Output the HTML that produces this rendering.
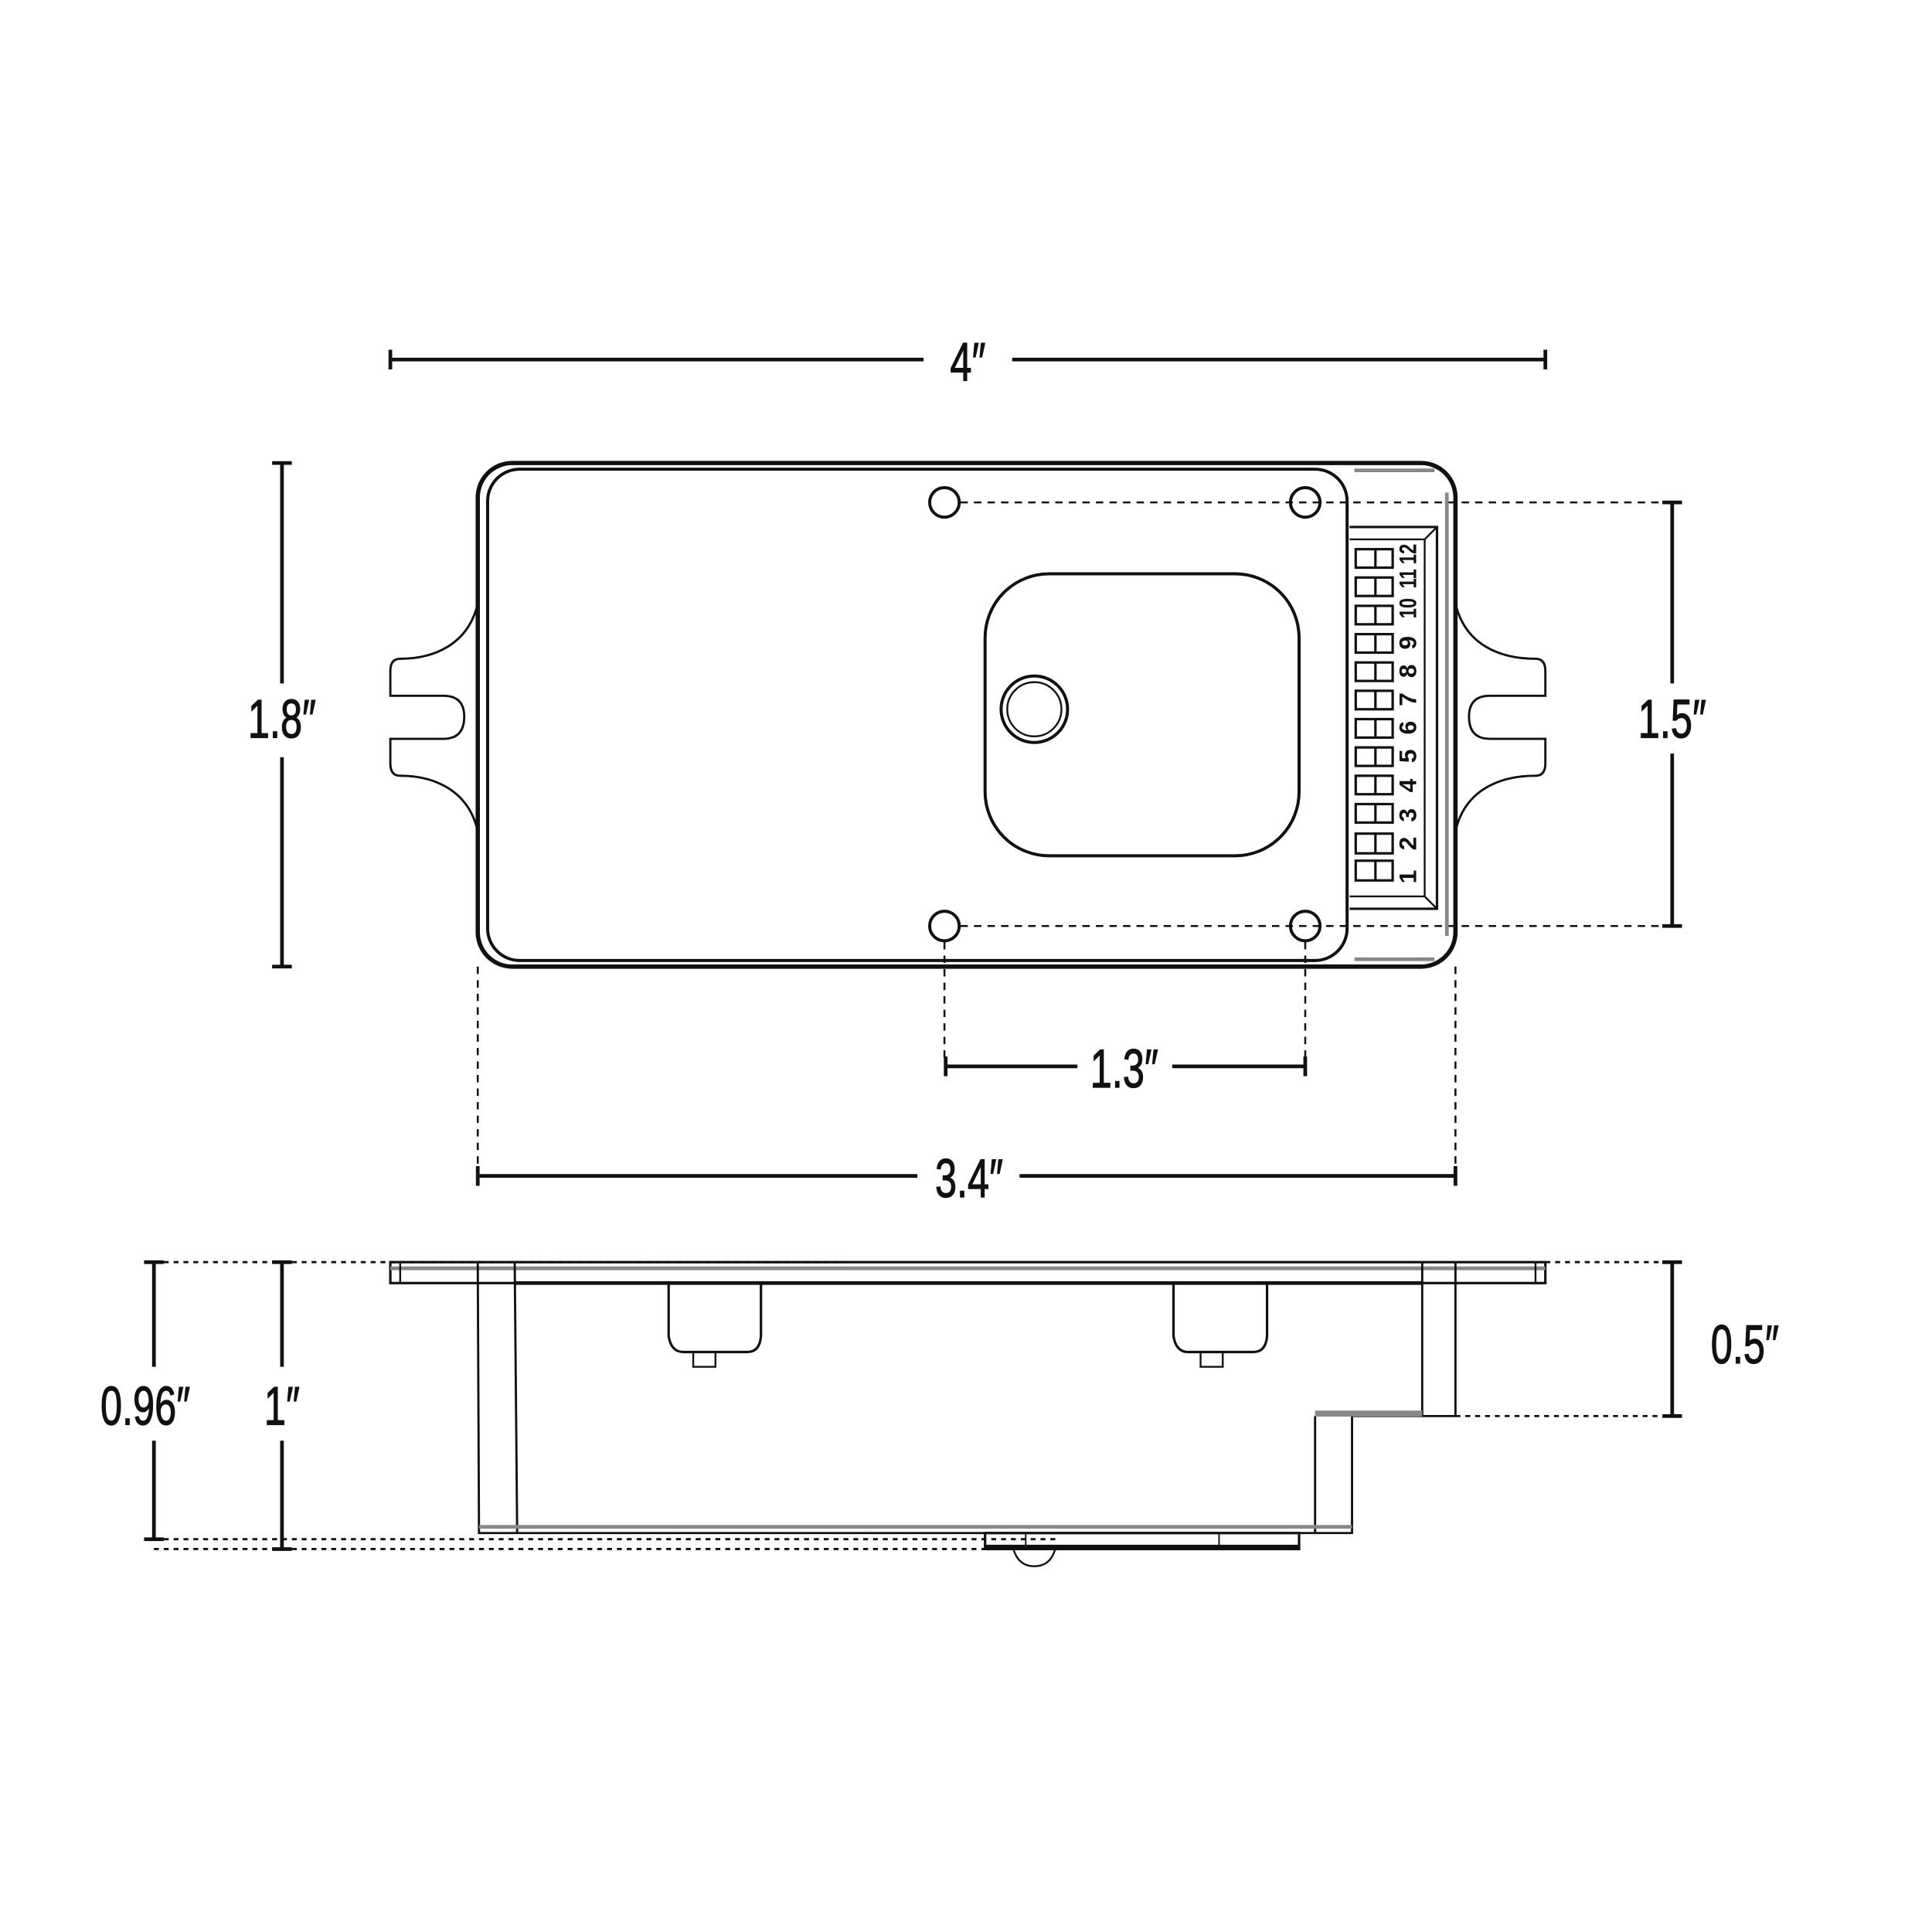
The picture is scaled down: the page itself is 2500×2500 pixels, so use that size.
<!DOCTYPE html>
<html><head><meta charset="utf-8"><style>
html,body{margin:0;padding:0;background:#fff}
svg{display:block}
text{font-family:"Liberation Sans",sans-serif;fill:#111}
</style></head><body>
<svg width="2500" height="2500" viewBox="0 0 1569 1569" xmlns="http://www.w3.org/2000/svg">
<g fill="none" stroke="#111" stroke-linecap="butt">
<line x1="317" y1="292" x2="750" y2="292" stroke-width="3"/>
<line x1="822" y1="292" x2="1255" y2="292" stroke-width="3"/>
<line x1="317" y1="284" x2="317" y2="300" stroke-width="3"/>
<line x1="1255" y1="284" x2="1255" y2="300" stroke-width="3"/>
<line x1="229" y1="376" x2="229" y2="555" stroke-width="3"/>
<line x1="229" y1="615" x2="229" y2="785" stroke-width="3"/>
<line x1="221" y1="376" x2="237" y2="376" stroke-width="3"/>
<line x1="221" y1="785" x2="237" y2="785" stroke-width="3"/>
<line x1="1358" y1="408" x2="1358" y2="555" stroke-width="3"/>
<line x1="1358" y1="612" x2="1358" y2="752" stroke-width="3"/>
<line x1="1350" y1="408" x2="1366" y2="408" stroke-width="3"/>
<line x1="1350" y1="752" x2="1366" y2="752" stroke-width="3"/>
<g stroke-width="1.6" stroke-dasharray="6,5">
<line x1="780" y1="408" x2="1350" y2="408"/>
<line x1="780" y1="752" x2="1350" y2="752"/>
<line x1="767" y1="765" x2="767" y2="862"/>
<line x1="1060" y1="765" x2="1060" y2="862"/>
<line x1="388" y1="785" x2="388" y2="950"/>
<line x1="1182" y1="785" x2="1182" y2="950"/>
</g>
<line x1="768" y1="866" x2="875" y2="866" stroke-width="3"/>
<line x1="952" y1="866" x2="1060" y2="866" stroke-width="3"/>
<line x1="768" y1="858" x2="768" y2="874" stroke-width="3"/>
<line x1="1060" y1="858" x2="1060" y2="874" stroke-width="3"/>
<line x1="388" y1="955" x2="745" y2="955" stroke-width="3"/>
<line x1="828" y1="955" x2="1182" y2="955" stroke-width="3"/>
<line x1="388" y1="947" x2="388" y2="963" stroke-width="3"/>
<line x1="1182" y1="947" x2="1182" y2="963" stroke-width="3"/>

<rect x="388" y="376" width="794" height="409" rx="28" stroke-width="3.5"/>
<rect x="396" y="381" width="698" height="399" rx="26" stroke-width="2.5"/>
<line x1="1100" y1="382" x2="1165" y2="382" stroke="#888" stroke-width="3"/>
<line x1="1100" y1="779" x2="1165" y2="779" stroke="#888" stroke-width="3"/>
<line x1="1175" y1="400" x2="1175" y2="760" stroke="#888" stroke-width="3"/>
<path d="M388,490 C380,525 350,535 325,535 Q317,535 317,545 L317,565 L360,565 Q377,565 377,582 Q377,600 360,600 L317,600 L317,620 Q317,630 325,630 C350,630 380,640 388,675" stroke-width="1.8"/>
<path d="M1182,490 C1190,525 1220,535 1247,535 Q1255,535 1255,545 L1255,565 L1210,565 Q1193,565 1193,582 Q1193,600 1210,600 L1255,600 L1255,620 Q1255,630 1247,630 C1220,630 1190,640 1182,675" stroke-width="1.8"/>
<circle cx="767" cy="408" r="12" stroke-width="2.5"/>
<circle cx="1060" cy="408" r="12" stroke-width="2.5"/>
<circle cx="767" cy="752" r="12" stroke-width="2.5"/>
<circle cx="1060" cy="752" r="12" stroke-width="2.5"/>
<rect x="800" y="466" width="255" height="229" rx="52" stroke-width="2.5"/>
<circle cx="840" cy="576" r="27" stroke-width="2.5"/>
<circle cx="840" cy="576" r="22" stroke-width="1.5"/>
<path d="M1096,428 L1167,428 L1167,738 L1096,738" stroke-width="2"/>
<path d="M1096,438 L1157,438 L1157,728 L1096,728" stroke-width="1.5"/>
<line x1="1157" y1="438" x2="1167" y2="428" stroke-width="1.5"/>
<line x1="1157" y1="728" x2="1167" y2="738" stroke-width="1.5"/>
</g>
<g font-size="20" font-weight="bold">
<text transform="translate(1150,712) rotate(-90)" text-anchor="middle">1</text>
<text transform="translate(1150,685) rotate(-90)" text-anchor="middle">2</text>
<text transform="translate(1150,662) rotate(-90)" text-anchor="middle">3</text>
<text transform="translate(1150,638) rotate(-90)" text-anchor="middle">4</text>
<text transform="translate(1150,614) rotate(-90)" text-anchor="middle">5</text>
<text transform="translate(1150,591) rotate(-90)" text-anchor="middle">6</text>
<text transform="translate(1150,568) rotate(-90)" text-anchor="middle">7</text>
<text transform="translate(1150,545) rotate(-90)" text-anchor="middle">8</text>
<text transform="translate(1150,522) rotate(-90)" text-anchor="middle">9</text>
<text transform="translate(1150,494) rotate(-90) scale(0.75,1)" text-anchor="middle">10</text>
<text transform="translate(1150,470) rotate(-90) scale(0.75,1)" text-anchor="middle">11</text>
<text transform="translate(1150,450) rotate(-90) scale(0.75,1)" text-anchor="middle">12</text>
</g>
<g fill="none" stroke="#111" stroke-width="2">
<rect x="1101" y="446" width="30" height="15"/><line x1="1117" y1="446" x2="1117" y2="461"/>
<rect x="1101" y="469" width="30" height="15"/><line x1="1117" y1="469" x2="1117" y2="484"/>
<rect x="1101" y="492" width="30" height="15"/><line x1="1117" y1="492" x2="1117" y2="507"/>
<rect x="1101" y="515" width="30" height="15"/><line x1="1117" y1="515" x2="1117" y2="530"/>
<rect x="1101" y="538" width="30" height="15"/><line x1="1117" y1="538" x2="1117" y2="553"/>
<rect x="1101" y="561" width="30" height="15"/><line x1="1117" y1="561" x2="1117" y2="576"/>
<rect x="1101" y="584" width="30" height="15"/><line x1="1117" y1="584" x2="1117" y2="599"/>
<rect x="1101" y="607" width="30" height="15"/><line x1="1117" y1="607" x2="1117" y2="622"/>
<rect x="1101" y="630" width="30" height="15"/><line x1="1117" y1="630" x2="1117" y2="645"/>
<rect x="1101" y="653" width="30" height="15"/><line x1="1117" y1="653" x2="1117" y2="668"/>
<rect x="1101" y="677" width="30" height="16"/><line x1="1117" y1="677" x2="1117" y2="693"/>
<rect x="1101" y="699" width="30" height="16"/><line x1="1117" y1="699" x2="1117" y2="715"/>
</g>

<g fill="none" stroke="#111">
<line x1="125" y1="1025" x2="125" y2="1110" stroke-width="3"/>
<line x1="125" y1="1170" x2="125" y2="1250" stroke-width="3"/>
<line x1="117" y1="1025" x2="133" y2="1025" stroke-width="3"/>
<line x1="117" y1="1250" x2="133" y2="1250" stroke-width="3"/>
<line x1="229" y1="1025" x2="229" y2="1110" stroke-width="3"/>
<line x1="229" y1="1170" x2="229" y2="1258" stroke-width="3"/>
<line x1="221" y1="1025" x2="237" y2="1025" stroke-width="3"/>
<line x1="221" y1="1258" x2="237" y2="1258" stroke-width="3"/>
<line x1="1358" y1="1025" x2="1358" y2="1150" stroke-width="3"/>
<line x1="1350" y1="1025" x2="1366" y2="1025" stroke-width="3"/>
<line x1="1350" y1="1150" x2="1366" y2="1150" stroke-width="3"/>
<g stroke-width="1.8" stroke-dasharray="4,4">
<line x1="125" y1="1025" x2="680" y2="1025"/>
<line x1="1255" y1="1025" x2="1358" y2="1025"/>
<line x1="1182" y1="1150" x2="1358" y2="1150"/>
<line x1="125" y1="1250" x2="860" y2="1250"/>
<line x1="125" y1="1258" x2="800" y2="1258"/>
</g>
<rect x="317" y="1025" width="938" height="17" stroke-width="2"/>
<line x1="317" y1="1030" x2="1255" y2="1030" stroke="#888" stroke-width="3"/>
<line x1="325" y1="1025" x2="325" y2="1042" stroke-width="1.5"/>
<line x1="1247" y1="1025" x2="1247" y2="1042" stroke-width="1.5"/>
<line x1="418" y1="1042" x2="1155" y2="1042" stroke-width="3"/>
<path d="M388,1025 L389,1245 L1098,1245 L1098,1150 L1182,1150 L1182,1025" stroke-width="1.8"/>
<line x1="418" y1="1025" x2="420" y2="1245" stroke-width="1.8"/>
<line x1="1155" y1="1025" x2="1155" y2="1150" stroke-width="1.8"/>
<line x1="1068" y1="1150" x2="1068" y2="1245" stroke-width="1.8"/>
<line x1="1068" y1="1148" x2="1155" y2="1148" stroke="#888" stroke-width="5"/>
<line x1="389" y1="1240" x2="1098" y2="1240" stroke="#888" stroke-width="3"/>
<path d="M543,1042 L543,1085 Q545,1098 555,1098 L607,1098 Q617,1098 618,1085 L618,1042" stroke-width="2"/>
<rect x="563" y="1098" width="18" height="12" stroke-width="1.5"/>
<path d="M953,1042 L953,1085 Q955,1098 965,1098 L1018,1098 Q1028,1098 1029,1085 L1029,1042" stroke-width="2"/>
<rect x="975" y="1098" width="18" height="12" stroke-width="1.5"/>
<rect x="800" y="1245" width="255" height="13" stroke-width="2"/>
<line x1="800" y1="1256" x2="1055" y2="1256" stroke-width="3"/>
<line x1="833" y1="1245" x2="833" y2="1258" stroke-width="1.2"/>
<line x1="990" y1="1245" x2="990" y2="1258" stroke-width="1.2"/>
<path d="M823,1258 Q827,1272 840,1272 Q853,1272 857,1258" stroke-width="1.5"/>
</g>

<g font-size="44" stroke="#111" stroke-width="0.8">
<text transform="translate(786,309) scale(0.72,1)" text-anchor="middle">4″</text>
<text transform="translate(229,599) scale(0.72,1)" text-anchor="middle">1.8″</text>
<text transform="translate(1358,599) scale(0.72,1)" text-anchor="middle">1.5″</text>
<text transform="translate(913,883) scale(0.72,1)" text-anchor="middle">1.3″</text>
<text transform="translate(787,972) scale(0.72,1)" text-anchor="middle">3.4″</text>
<text transform="translate(118,1157) scale(0.72,1)" text-anchor="middle">0.96″</text>
<text transform="translate(229,1157) scale(0.72,1)" text-anchor="middle">1″</text>
<text transform="translate(1417,1107) scale(0.72,1)" text-anchor="middle">0.5″</text>
</g>
</svg>
</body></html>
